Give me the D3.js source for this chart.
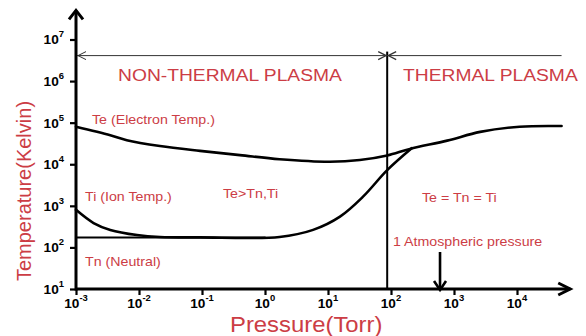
<!DOCTYPE html>
<html><head><meta charset="utf-8">
<script src="https://cdn.jsdelivr.net/npm/d3@7"></script>
<style>body{margin:0;background:#fff}svg{display:block}</style>
</head><body><svg id="c" width="586" height="336"></svg>
<script>
// ---- data ----
const xTicks = [1e-3, 1e-2, 1e-1, 1e0, 1e1, 1e2, 1e3, 1e4];
const xTickExp = ["-3","-2","-1","0","1","2","3","4"];
const yTicks = [1e1, 1e2, 1e3, 1e4, 1e5, 1e6, 1e7];
const yTickExp = ["1","2","3","4","5","6","7"];
const tePressure = [0.001, 0.0035, 0.0064, 0.0215, 0.093, 0.4, 1.7, 10.7, 32, 87, 200, 780, 2600, 11000, 51000];
const teTemp     = [80000, 50000, 38000, 27500, 21000, 16600, 13200, 11500, 12600, 16200, 23400, 37000, 60000, 80000, 83000];
const tiPressure = [0.001, 0.0019, 0.0035, 0.0093, 0.0215, 0.093, 1.7, 5.8, 15.5, 36, 87, 215];
const tiTemp     = [800, 386, 264, 199, 178, 174, 178, 264, 550, 1660, 7200, 24500];
const tnPressure = [0.001, 1.0];
const tnTemp     = [172, 172];
const boundaryPressure = 87;      // non-thermal / thermal boundary
const atmPressure = 600;          // arrow position as drawn
const regionLineTemp = 4.1e6;     // level of double-headed region arrows
const regionLineEnd = 51000;
const axisPMax = 7e4, axisTMax = 5e7;

// ---- drawing ----
const svg = d3.select("#c");
const x = d3.scaleLog().domain([1e-3, 1e4]).range([76, 517]);
const y = d3.scaleLog().domain([10, 1e7]).range([289, 39.5]);
const RED = "#cc3d45";
const SX = 1.12;

function label(px, py, str, size, opts = {}) {
  const g = svg.append("g").attr("transform", `translate(${px},${py}) scale(${opts.sx||SX},1)`);
  return g.append("text").attr("font-family", "Liberation Sans, Arial, sans-serif")
    .attr("font-size", size).attr("fill", opts.fill || RED)
    .attr("text-anchor", opts.anchor || "start")
    .attr("dominant-baseline", "middle")
    .attr("font-weight", opts.weight || "normal").text(str);
}

// region lines
svg.append("line").attr("x1", x(boundaryPressure)).attr("x2", x(boundaryPressure))
  .attr("y1", y(regionLineTemp) - 4).attr("y2", y(10)).attr("stroke", "#000").attr("stroke-width", 2);
const ry = y(regionLineTemp);
svg.append("line").attr("x1", x(1e-3)).attr("x2", x(regionLineEnd)).attr("y1", ry).attr("y2", ry)
  .attr("stroke", "#333").attr("stroke-width", 1);
function chevron(tx, ty, dir, len, half, w, col) {
  svg.append("path").attr("d", `M${tx - dir*len},${ty - half}L${tx},${ty}L${tx - dir*len},${ty + half}`)
    .attr("fill", "none").attr("stroke", col).attr("stroke-width", w);
}
chevron(x(1e-3) + 2, ry, -1, 8, 4, 1, "#333");
chevron(x(boundaryPressure) - 1, ry, 1, 8, 4, 1.2, "#333");
chevron(x(boundaryPressure) + 1, ry, -1, 8, 4, 1.2, "#333");

// curves
const line = d3.line().x(d => x(d[0])).y(d => y(d[1])).curve(d3.curveCatmullRom.alpha(0.5));
const zip = (a, b) => a.map((v, i) => [v, b[i]]);
[[tePressure, teTemp, 2.6], [tiPressure, tiTemp, 2.6], [tnPressure, tnTemp, 2]].forEach(([p, t, w]) => {
  svg.append("path").attr("d", line(zip(p, t))).attr("fill", "none")
    .attr("stroke", "#000").attr("stroke-width", w).attr("stroke-linecap", "round");
});

// axes
const xAxis = svg.append("g").attr("transform", `translate(0,${y(10)})`)
  .call(d3.axisBottom(x).tickValues(xTicks).tickSize(6).tickSizeOuter(0).tickFormat(""));
const yAxis = svg.append("g").attr("transform", `translate(${x(1e-3)},0)`)
  .call(d3.axisLeft(y).tickValues(yTicks).tickSize(6).tickSizeOuter(0).tickFormat(""));
[xAxis, yAxis].forEach(a => { a.select(".domain").remove(); a.selectAll(".tick line").attr("stroke", "#000").attr("stroke-width", 2.2); });
svg.append("line").attr("x1", x(1e-3)).attr("x2", x(axisPMax)).attr("y1", y(10)).attr("y2", y(10))
  .attr("stroke", "#000").attr("stroke-width", 3);
svg.append("line").attr("x1", x(1e-3)).attr("x2", x(1e-3)).attr("y1", y(10) + 1.5).attr("y2", y(axisTMax))
  .attr("stroke", "#000").attr("stroke-width", 3);
svg.append("path").attr("d", `M${x(axisPMax)-12},${y(10)-6}L${x(axisPMax)},${y(10)}L${x(axisPMax)-12},${y(10)+6}`)
  .attr("fill", "none").attr("stroke", "#000").attr("stroke-width", 3);
svg.append("path").attr("d", `M${x(1e-3)-7},${y(axisTMax)+9}L${x(1e-3)},${y(axisTMax)}L${x(1e-3)+7},${y(axisTMax)+9}`)
  .attr("fill", "none").attr("stroke", "#000").attr("stroke-width", 3);

// tick labels
function powLabel(px, py, exp, anchor) {
  const t = label(px, py, "", 13, { fill: "#000", weight: "bold", anchor, sx: 1.05 });
  t.append("tspan").text("10");
  t.append("tspan").attr("font-size", 9).attr("dy", -5).text(exp);
  return t;
}
xTicks.forEach((v, i) => powLabel(x(v), y(10) + 15, xTickExp[i], "middle"));
yTicks.forEach((v, i) => powLabel(x(1e-3) - 12, y(v) + 1, yTickExp[i], "end"));

// atmospheric arrow
const ax = x(atmPressure);
svg.append("line").attr("x1", ax).attr("x2", ax).attr("y1", 252).attr("y2", y(10) + 1)
  .attr("stroke", "#000").attr("stroke-width", 2.6);
svg.append("path").attr("d", `M${ax-6},${y(10)-8}L${ax},${y(10)+1}L${ax+6},${y(10)-8}`)
  .attr("fill", "none").attr("stroke", "#000").attr("stroke-width", 2.6);

// annotations
label(118, 76, "NON-THERMAL PLASMA", 17.2);
label(403, 76, "THERMAL PLASMA", 17.2);
label(92, 121, "Te (Electron Temp.)", 12.7);
label(85, 198, "Ti (Ion Temp.)", 12.7);
label(85, 263, "Tn (Neutral)", 12.7);
label(223, 195, "Te>Tn,Ti", 12.7);
label(422, 199, "Te = Tn = Ti", 12.7);
label(393, 243, "1 Atmospheric pressure", 12.7);

// axis titles
label(230, 326, "Pressure(Torr)", 21.3, { sx: 1.12 });
svg.append("text").attr("transform", "translate(31,191) rotate(-90)")
  .attr("font-family", "Liberation Sans, Arial, sans-serif").attr("font-size", 20)
  .attr("fill", RED).attr("text-anchor", "middle").text("Temperature(Kelvin)");
</script></body></html>
